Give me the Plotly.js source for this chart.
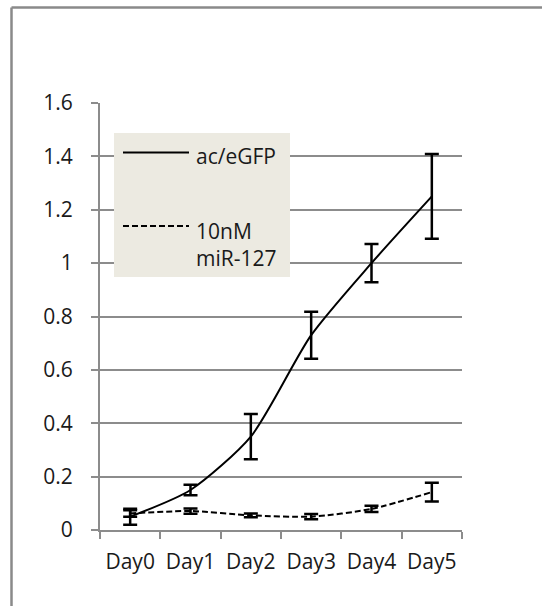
<!DOCTYPE html>
<html>
<head>
<meta charset="utf-8">
<script src="https://cdn.plot.ly/plotly-3.0.1.min.js"></script>
<style>html,body{margin:0;padding:0;background:#fff;}#chart{width:542px;height:606px;}</style>
</head>
<body>
<div id="chart"></div>
<script>
var days = ["Day0", "Day1", "Day2", "Day3", "Day4", "Day5"];
var egfpValues = [0.05, 0.15, 0.35, 0.73, 1.0, 1.25];
var egfpErrors = [0.03, 0.02, 0.085, 0.088, 0.072, 0.159];
var mirValues = [0.062, 0.071, 0.055, 0.05, 0.079, 0.142];
var mirErrors = [0.012, 0.01, 0.007, 0.01, 0.012, 0.035];
var seriesNames = ["ac/eGFP", "10nM<br>miR-127"];
var yTicks = [0, 0.2, 0.4, 0.6, 0.8, 1, 1.2, 1.4, 1.6];

var FONT = "Open Sans, DejaVu Sans, sans-serif";
var GRID = "#8c8c8c";
var FS = 21;

// plot area in pixels: x 100..462, y 103..530
var L = 100, R = 80, T = 103, B = 76;
var PW = 542 - L - R, PH = 606 - T - B;
function px(x) { return (x - L) / PW; }
function py(y) { return (606 - B - y) / PH; }

var traces = [
  {
    x: days, y: egfpValues, name: seriesNames[0], type: "scatter", mode: "lines",
    line: {color: "#000", width: 2, shape: "spline", smoothing: 0.7},
    error_y: {type: "data", array: egfpErrors, visible: true, color: "#000", thickness: 2.5, width: 7}
  },
  {
    x: days, y: mirValues, name: seriesNames[1], type: "scatter", mode: "lines",
    line: {color: "#000", width: 2, dash: "6px,3px", shape: "spline", smoothing: 0.7},
    error_y: {type: "data", array: mirErrors, visible: true, color: "#000", thickness: 2.5, width: 7}
  }
];

var layout = {
  width: 542, height: 606,
  margin: {l: L, r: R, t: T, b: B, pad: 0},
  paper_bgcolor: "#fff", plot_bgcolor: "#fff",
  showlegend: false,
  font: {family: FONT, size: FS, color: "#1a1a1a"},
  xaxis: {
    type: "category", categoryarray: days, tickson: "boundaries",
    ticks: "outside", ticklen: 7, tickwidth: 2, tickcolor: GRID,
    showline: true, linecolor: GRID, linewidth: 2,
    showgrid: false, zeroline: false,
    ticklabelstandoff: 12,
    tickfont: {family: FONT, size: FS, color: "#1a1a1a"},
    range: [-0.5, 5.5], fixedrange: true
  },
  yaxis: {
    range: [0, 1.6], tickvals: yTicks, ticktext: yTicks.map(String),
    ticks: "outside", ticklen: 7, tickwidth: 2, tickcolor: GRID,
    showline: true, linecolor: GRID, linewidth: 2,
    showgrid: true, gridcolor: GRID, gridwidth: 2, zeroline: false,
    ticklabelstandoff: 14,
    tickfont: {family: FONT, size: FS, color: "#1a1a1a"},
    fixedrange: true
  },
  shapes: [
    // outer frame: top and left edges only
    {type: "line", xref: "paper", yref: "paper", x0: px(11.5), x1: px(542), y0: py(7.5), y1: py(7.5),
     line: {color: "#8a8a8a", width: 2.5}, layer: "above"},
    {type: "line", xref: "paper", yref: "paper", x0: px(11.5), x1: px(11.5), y0: py(606), y1: py(7.5),
     line: {color: "#8a8a8a", width: 2.5}, layer: "above"},
    // legend box
    {type: "rect", xref: "paper", yref: "paper", x0: px(114), x1: px(290), y0: py(277), y1: py(133),
     line: {width: 0}, fillcolor: "#ECEAE1", layer: "above"},
    {type: "line", xref: "paper", yref: "paper", x0: px(123), x1: px(189), y0: py(152.5), y1: py(152.5),
     line: {color: "#000", width: 2}, layer: "above"},
    {type: "line", xref: "paper", yref: "paper", x0: px(123), x1: px(189), y0: py(226), y1: py(226),
     line: {color: "#000", width: 2, dash: "6px,3px"}, layer: "above"}
  ],
  annotations: [
    {xref: "paper", yref: "paper", x: px(194), y: py(156), xanchor: "left", yanchor: "middle",
     text: seriesNames[0], showarrow: false, font: {family: FONT, size: FS, color: "#1a1a1a"}},
    {xref: "paper", yref: "paper", x: px(194), y: py(244), xanchor: "left", yanchor: "middle", align: "left",
     text: seriesNames[1], showarrow: false, font: {family: FONT, size: FS, color: "#1a1a1a"}}
  ]
};

Plotly.newPlot("chart", traces, layout, {displayModeBar: false, staticPlot: true});
</script>
</body>
</html>
